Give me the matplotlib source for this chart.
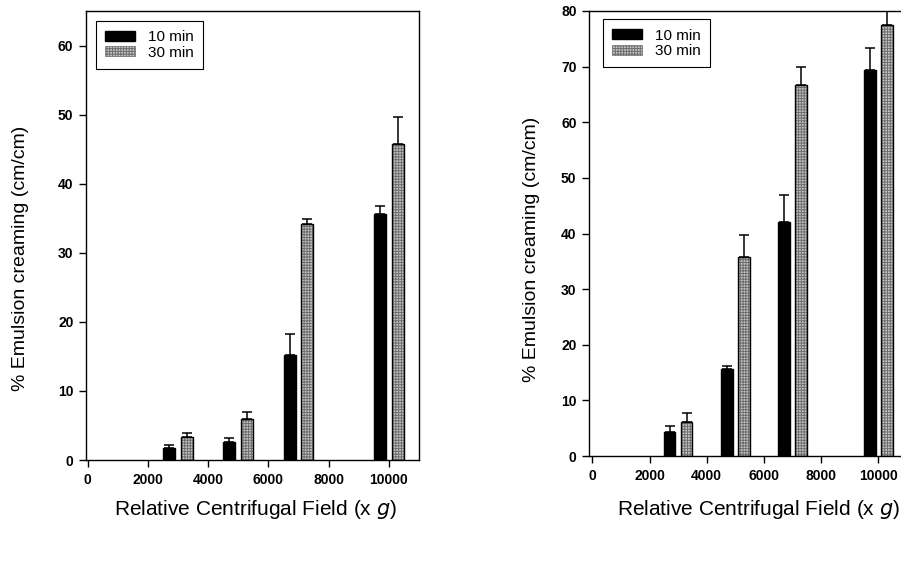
import matplotlib
matplotlib.use("Agg")
import matplotlib.pyplot as plt
import numpy as np

plt.rcParams['font.family'] = ['Liberation Sans', 'DejaVu Sans']
plt.rcParams['hatch.color'] = '#6e6e6e'
plt.rcParams['hatch.linewidth'] = 0.7

# Relative centrifugal field (x g) for each group of bars
rcf = [3000, 5000, 7000, 10000]
series_labels = ['10 min', '30 min']

# left panel
left_10 = [1.7, 2.6, 15.2, 35.6]
left_10_err = [0.5, 0.6, 3.1, 1.1]
left_30 = [3.3, 6.0, 34.1, 45.7]
left_30_err = [0.55, 0.9, 0.8, 3.9]

# right panel
right_10 = [4.3, 15.7, 42.0, 69.4]
right_10_err = [1.1, 0.5, 5.0, 4.0]
right_30 = [6.2, 35.7, 66.7, 77.4]
right_30_err = [1.6, 4.0, 3.2, 3.5]

BAR_W = 400
OFFSET = 295
GREY = '#c4c4c4'
HATCH = '++++++'


def draw_panel(ax, v10, e10, v30, e30, ymax, xmin, ylab_pos, xlab_pos, leg_pos):
    x = np.array(rcf)
    ax.bar(x - OFFSET, v10, width=BAR_W, color='black', edgecolor='black',
           linewidth=1, label=series_labels[0], zorder=2)
    # hatched grey fill, then black outline on top
    ax.bar(x + OFFSET, v30, width=BAR_W, color=GREY, hatch=HATCH,
           linewidth=0, zorder=2)
    ax.bar(x + OFFSET, v30, width=BAR_W, fill=False, edgecolor='black',
           linewidth=1, zorder=3)
    # legend proxy for the hatched bars
    ax.bar([np.nan], [np.nan], width=BAR_W, color=GREY, hatch=HATCH,
           edgecolor='#6e6e6e', linewidth=0.5, label=series_labels[1])

    ax.errorbar(x - OFFSET, v10, yerr=[np.zeros(len(e10)), e10], fmt='none',
                ecolor='black', elinewidth=1.1, capsize=3.8, capthick=1.1, zorder=4)
    ax.errorbar(x + OFFSET, v30, yerr=[np.zeros(len(e30)), e30], fmt='none',
                ecolor='black', elinewidth=1.1, capsize=3.8, capthick=1.1, zorder=4)

    ax.set_xlim(xmin, 11000)
    ax.set_ylim(0, ymax)
    ax.set_xticks(range(0, 10001, 2000))
    ax.set_yticks(range(0, ymax + 1, 10))
    ax.tick_params(direction='out', length=5, width=1, labelsize=10, pad=4)
    for lab in ax.get_xticklabels() + ax.get_yticklabels():
        lab.set_fontweight('bold')
    for sp in ax.spines.values():
        sp.set_linewidth(1)

    ax.set_ylabel('% Emulsion creaming (cm/cm)', fontsize=14)
    ax.set_xlabel('Relative Centrifugal Field (x $\\it{g}$)', fontsize=15)
    ax.yaxis.set_label_coords(*ylab_pos)
    ax.xaxis.set_label_coords(*xlab_pos)

    leg = ax.legend(loc='upper left', bbox_to_anchor=leg_pos, borderaxespad=0,
                    fontsize=11, fancybox=False, framealpha=1, edgecolor='black',
                    handlelength=2.0, handleheight=0.62, handletextpad=0.8,
                    labelspacing=0.1, borderpad=0.6)
    leg.get_frame().set_linewidth(0.8)


fig = plt.figure(figsize=(9.01, 5.80), dpi=100)

ax1 = fig.add_axes([86 / 901, 1 - 460 / 580, 333 / 901, 449 / 580])
draw_panel(ax1, left_10, left_10_err, left_30, left_30_err, 65, -55,
           (-0.171, 0.45), (0.51, -0.085), (0.029, 0.978))

# right panel runs past the right edge of the picture, as in the original
ax2 = fig.add_axes([589 / 901, 1 - 456 / 580, 318 / 901, 445 / 580])
draw_panel(ax2, right_10, right_10_err, right_30, right_30_err, 80, -115,
           (-0.154, 0.465), (0.532, -0.095), (0.043, 0.981))

fig.savefig('out.png', dpi=100)
